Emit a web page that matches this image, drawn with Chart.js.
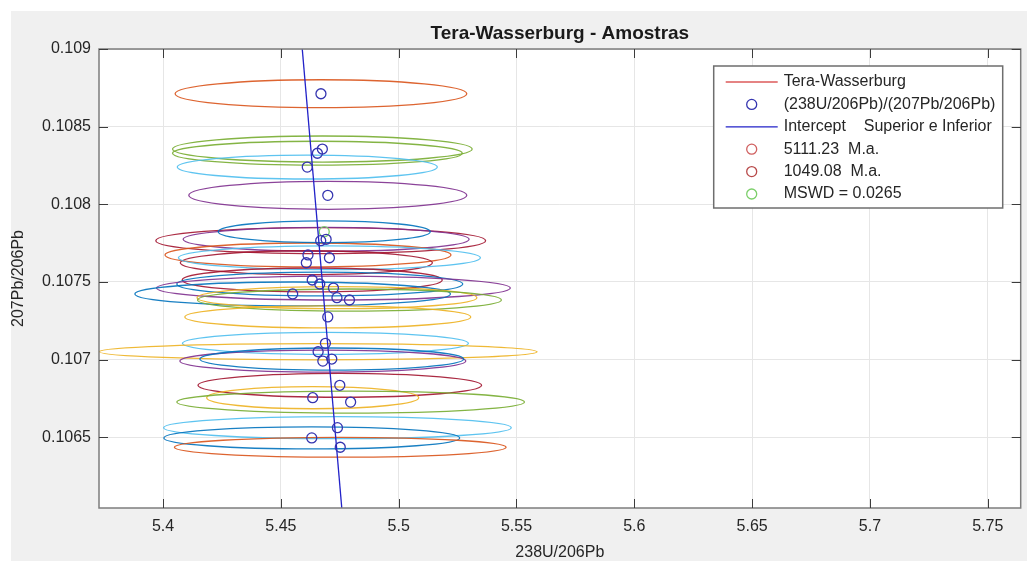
<!DOCTYPE html>
<html>
<head>
<meta charset="utf-8">
<title>Tera-Wasserburg - Amostras</title>
<script src="https://cdn.jsdelivr.net/npm/chart.js@4.4.1/dist/chart.umd.min.js"></script>
<style>
  html, body { margin: 0; padding: 0; background: #fff; }
  #wrap { position: absolute; left: 11px; top: 11px; width: 1016px; height: 550px; background: #f0f0f0; }
</style>
</head>
<body>
<div id="wrap"><canvas id="tw" width="1016" height="550"></canvas></div>
<script>
// spot analyses: 238U/206Pb (x) and 207Pb/206Pb (y)
const sampleX = [5.4670, 5.4676, 5.4655, 5.4612, 5.4699, 5.4669, 5.4692, 5.4615, 5.4608,
  5.4706, 5.4633, 5.4665, 5.4723, 5.4550, 5.4738, 5.4791, 5.4699, 5.4689, 5.4658, 5.4678,
  5.4716, 5.4750, 5.4635, 5.4796, 5.4740, 5.4631, 5.4752];
const sampleY = [0.108712, 0.108356, 0.108329, 0.108240, 0.108058, 0.107766, 0.107775, 0.107674,
  0.107624, 0.107656, 0.107513, 0.107487, 0.107461, 0.107423, 0.107399, 0.107384, 0.107275,
  0.107105, 0.107051, 0.106991, 0.107004, 0.106835, 0.106755, 0.106727, 0.106562, 0.106496,
  0.106436];

// error ellipse half axes for each spot
const sampleRx = [0.0619, 0.0636, 0.0615, 0.0552, 0.0590, 0.0700, 0.0607, 0.0607, 0.0535,
  0.0641, 0.0552, 0.0607, 0.0751, 0.0670, 0.0594, 0.0645, 0.0607, 0.0607, 0.0929, 0.0607,
  0.0560, 0.0602, 0.0450, 0.0738, 0.0738, 0.0628, 0.0704];
const sampleRy = [0.000090, 0.000084, 0.000077, 0.000077, 0.000090, 0.000084, 0.000077, 0.000077,
  0.000077, 0.000077, 0.000077, 0.000077, 0.000077, 0.000077, 0.000071, 0.000071, 0.000071,
  0.000071, 0.000052, 0.000071, 0.000071, 0.000077, 0.000071, 0.000071, 0.000071, 0.000071,
  0.000064];

// MSWD marker
const mswdX = [5.4684];
const mswdY = [0.107824];
const mswdRx = [0.0450];
const mswdRy = [0.000070];

// discordia (intercept) line end points
const interceptX = [5.4585, 5.4761];
const interceptY = [0.10910, 0.10600];

const xTicks = [5.4, 5.45, 5.5, 5.55, 5.6, 5.65, 5.7, 5.75];
const xTickLabels = ['5.4', '5.45', '5.5', '5.55', '5.6', '5.65', '5.7', '5.75'];
const yTicks = [0.1065, 0.107, 0.1075, 0.108, 0.1085, 0.109];
const yTickLabels = ['0.1065', '0.107', '0.1075', '0.108', '0.1085', '0.109'];

// matlab line colour order
const palette = {
  blue: '#0072BD', orange: '#D95319', yellow: '#EDB120', purple: '#7E2F8E',
  green: '#77AC30', cyan: '#4DBEEE', red: '#A2142F'
};
const sampleEllipseColors = ['orange', 'green', 'green', 'cyan', 'purple', 'red', 'purple',
  'orange', 'red', 'cyan', 'red', 'blue', 'purple', 'blue', 'yellow', 'green', 'yellow', 'cyan',
  'yellow', 'purple', 'blue', 'red', 'yellow', 'green', 'cyan', 'blue', 'orange'].map(c => palette[c]);

function points(xs, ys) {
  return xs.map((v, i) => ({ x: v, y: ys[i] }));
}

const plotBackground = {
  id: 'plotBackground',
  beforeDraw(chart) {
    const { ctx, chartArea: a } = chart;
    ctx.save();
    ctx.fillStyle = '#ffffff';
    ctx.fillRect(a.left, a.top, a.right - a.left, a.bottom - a.top);
    ctx.restore();
  }
};

const errorEllipses = {
  id: 'errorEllipses',
  beforeDatasetsDraw(chart) {
    const { ctx, chartArea: a, scales: { x, y } } = chart;
    ctx.save();
    ctx.beginPath();
    ctx.rect(a.left, a.top, a.right - a.left, a.bottom - a.top);
    ctx.clip();
    ctx.lineWidth = 1.3;
    ctx.globalAlpha = 0.9;
    chart.data.datasets.forEach(ds => {
      if (!ds.ellipses) return;
      ds.data.forEach((p, i) => {
        const cx = x.getPixelForValue(p.x);
        const cy = y.getPixelForValue(p.y);
        const rx = Math.abs(x.getPixelForValue(p.x + ds.ellipses.rx[i]) - cx);
        const ry = Math.abs(y.getPixelForValue(p.y + ds.ellipses.ry[i]) - cy);
        ctx.strokeStyle = ds.ellipses.colors[i];
        ctx.beginPath();
        ctx.ellipse(cx, cy, rx, ry, 0, 0, Math.PI * 2);
        ctx.stroke();
      });
    });
    ctx.restore();
  }
};

// box round the axes with inward ticks on all four sides
const axesBox = {
  id: 'axesBox',
  afterDatasetsDraw(chart) {
    const { ctx, chartArea: a, scales: { x, y } } = chart;
    ctx.save();
    ctx.lineWidth = 1.5;
    ctx.strokeStyle = '#7c7c7c';
    ctx.strokeRect(a.left, a.top, a.right - a.left, a.bottom - a.top);
    ctx.lineWidth = 1;
    ctx.strokeStyle = '#3c3c3c';
    ctx.beginPath();
    x.ticks.forEach(t => {
      const px = Math.round(x.getPixelForValue(t.value)) + 0.5;
      ctx.moveTo(px, a.bottom); ctx.lineTo(px, a.bottom - 9);
      ctx.moveTo(px, a.top); ctx.lineTo(px, a.top + 9);
    });
    y.ticks.forEach(t => {
      const py = Math.round(y.getPixelForValue(t.value)) + 0.5;
      ctx.moveTo(a.left, py); ctx.lineTo(a.left + 9, py);
      ctx.moveTo(a.right, py); ctx.lineTo(a.right - 9, py);
    });
    ctx.stroke();
    ctx.restore();
  }
};

const boxLegend = {
  id: 'boxLegend',
  afterDraw(chart) {
    const { ctx, chartArea: a } = chart;
    const left = a.right - 307, top = a.top + 17, w = 289, h = 142, row = 22.4;
    ctx.save();
    ctx.fillStyle = '#ffffff';
    ctx.fillRect(left, top, w, h);
    ctx.strokeStyle = '#6e6e6e';
    ctx.lineWidth = 1.5;
    ctx.strokeRect(left, top, w, h);
    ctx.font = '16px "Liberation Sans", Arial, sans-serif';
    ctx.textBaseline = 'middle';
    chart.data.datasets.forEach((ds, i) => {
      const cy = top + 16 + i * row;
      if (ds.showLine) {
        ctx.strokeStyle = ds.borderColor;
        ctx.lineWidth = 1.3;
        ctx.beginPath();
        ctx.moveTo(left + 12, cy);
        ctx.lineTo(left + 64, cy);
        ctx.stroke();
      } else {
        ctx.strokeStyle = ds.pointBorderColor;
        ctx.lineWidth = 1.3;
        ctx.beginPath();
        ctx.arc(left + 38, cy, 5, 0, Math.PI * 2);
        ctx.stroke();
      }
      ctx.fillStyle = '#262626';
      ctx.fillText(ds.label, left + 70, cy);
    });
    ctx.restore();
  }
};

Chart.defaults.font.family = '"Liberation Sans", Arial, sans-serif';
Chart.defaults.color = '#262626';

new Chart(document.getElementById('tw'), {
  type: 'scatter',
  data: {
    datasets: [
      {
        label: 'Tera-Wasserburg',
        data: [],
        showLine: true,
        borderColor: '#dd5a5a',
        pointRadius: 0
      },
      {
        label: '(238U/206Pb)/(207Pb/206Pb)',
        data: points(sampleX, sampleY),
        ellipses: { rx: sampleRx, ry: sampleRy, colors: sampleEllipseColors },
        pointStyle: 'circle',
        pointRadius: 5,
        pointBackgroundColor: 'rgba(0,0,0,0)',
        pointBorderColor: '#3535b0',
        pointBorderWidth: 1.3
      },
      {
        label: 'Intercept    Superior e Inferior',
        data: points(interceptX, interceptY),
        showLine: true,
        borderColor: '#2222c8',
        borderWidth: 1.3,
        pointRadius: 0
      },
      {
        label: '5111.23  M.a.',
        data: [],
        pointRadius: 5,
        pointBorderColor: '#d06060'
      },
      {
        label: '1049.08  M.a.',
        data: [],
        pointRadius: 5,
        pointBorderColor: '#b84a4a'
      },
      {
        label: 'MSWD = 0.0265',
        data: points(mswdX, mswdY),
        ellipses: { rx: mswdRx, ry: mswdRy, colors: [palette.blue] },
        pointStyle: 'circle',
        pointRadius: 5,
        pointBackgroundColor: 'rgba(0,0,0,0)',
        pointBorderColor: '#7ccf6a',
        pointBorderWidth: 1.3
      }
    ]
  },
  options: {
    responsive: false,
    animation: false,
    devicePixelRatio: 1,
    layout: { padding: { left: 0, top: 0, right: 6, bottom: 0 } },
    plugins: {
      legend: { display: false },
      tooltip: { enabled: false },
      title: {
        display: true,
        text: 'Tera-Wasserburg - Amostras',
        fullSize: false,
        color: '#1a1a1a',
        font: { size: 19, weight: 'bold' },
        padding: { top: 11, bottom: 4.2 }
      }
    },
    scales: {
      x: {
        type: 'linear',
        min: 5.3728,
        max: 5.764,
        afterBuildTicks: s => { s.ticks = xTicks.map(v => ({ value: v })); },
        afterFit: s => { s.height = 53; },
        grid: { color: '#e6e6e6', drawTicks: false },
        border: { display: false },
        ticks: {
          padding: 9,
          maxRotation: 0,
          font: { size: 16 },
          callback: v => xTickLabels[xTicks.indexOf(v)]
        },
        title: { display: true, text: '238U/206Pb', font: { size: 16, lineHeight: 1 }, padding: 0 }
      },
      y: {
        type: 'linear',
        min: 0.106045,
        max: 0.109,
        afterBuildTicks: s => { s.ticks = yTicks.map(v => ({ value: v })); },
        afterFit: s => { s.width = 88; },
        grid: { color: '#e6e6e6', drawTicks: false },
        border: { display: false },
        ticks: {
          padding: 8,
          font: { size: 16 },
          callback: v => yTickLabels[yTicks.indexOf(v)]
        },
        title: { display: true, text: '207Pb/206Pb', font: { size: 16, lineHeight: 1 }, padding: 0 }
      }
    }
  },
  plugins: [plotBackground, errorEllipses, axesBox, boxLegend]
});
</script>
</body>
</html>
